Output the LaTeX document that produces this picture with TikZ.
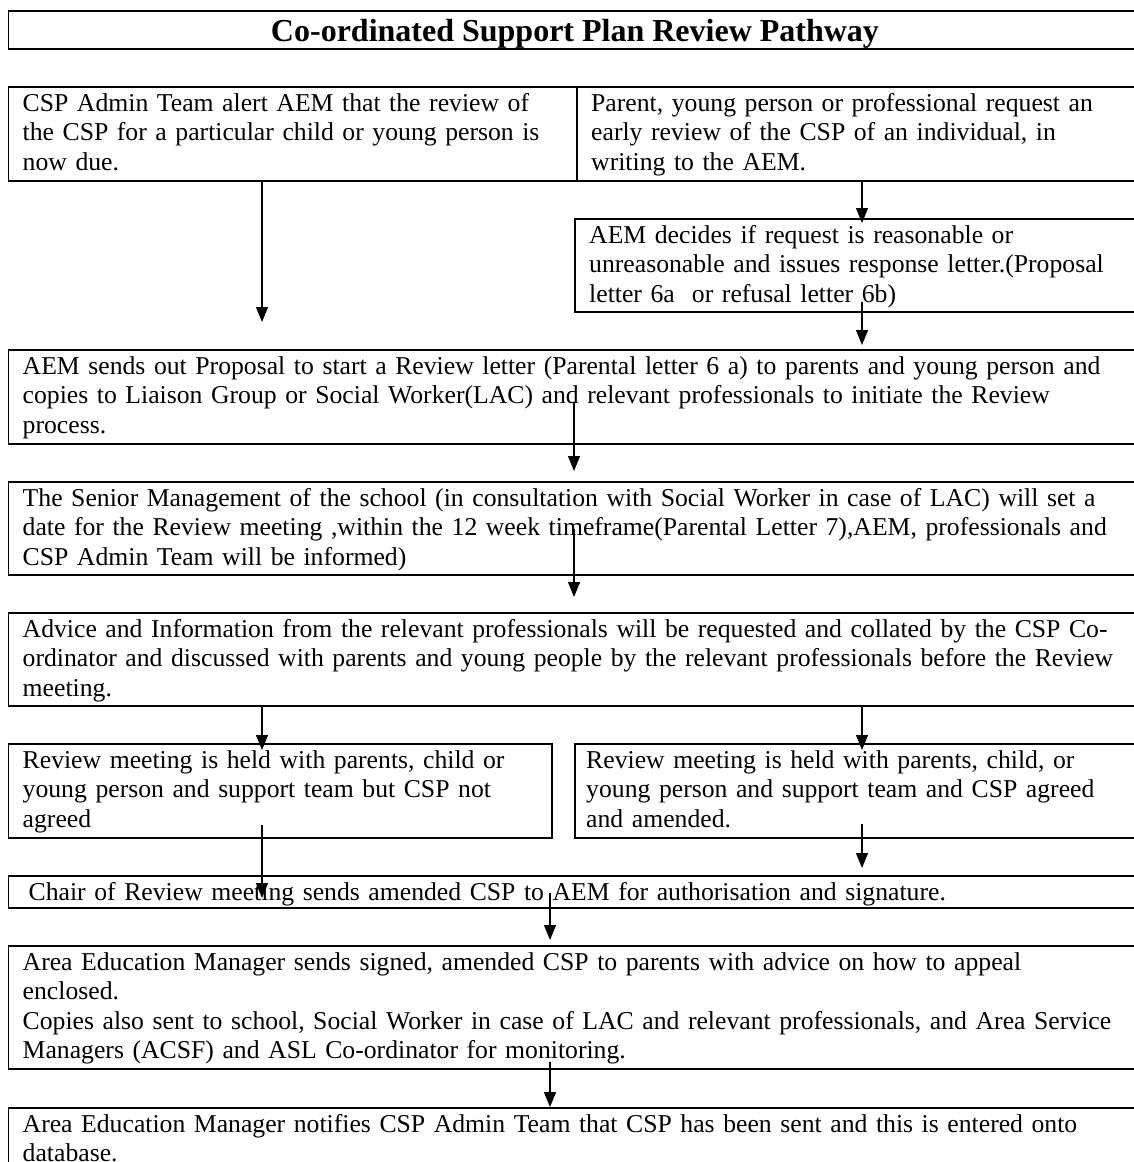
\documentclass[tikz,border=0pt]{standalone}
\usepackage{fontspec}
\setmainfont{Liberation Serif}
\usetikzlibrary{arrows.meta,calc}
\begin{document}
\begin{tikzpicture}[x=1pt,y=-1pt,
  box/.style={draw, line width=1.6pt, inner sep=0pt, anchor=north west, minimum width=1140pt},
  txt/.style={anchor=base west, inner sep=0pt, align=left, text width=1120pt, font=\fontsize{25.7}{29.5}\selectfont},
  arr/.style={line width=1.2pt, -{Triangle[length=15pt,width=12pt]}}]
\clip (0,0) rectangle (1134,1162);
\fill[white] (0,0) rectangle (1134,1162);
% column coordinates
\coordinate (xL) at (262,0);
\coordinate (xM) at (574,0);
\coordinate (xR) at (862,0);
\coordinate (xC) at (550,0);
% boxes
\node[box, minimum height=38pt] (title) at (7.5,10) {};
\node[box, minimum width=568.5pt, minimum height=94pt] (r1l) at (7.5,86) {};
\node[box, minimum width=570pt, minimum height=94pt] (r1r) at (576,86) {};
\node[box, minimum width=570pt, minimum height=93pt] (aem) at (574,218) {};
\node[box, minimum height=94pt] (b3) at (7.5,349) {};
\node[box, minimum height=93pt] (b4) at (7.5,481) {};
\node[box, minimum height=93pt] (b5) at (7.5,612) {};
\node[box, minimum width=543.5pt, minimum height=94pt] (r6l) at (7.5,743) {};
\node[box, minimum width=570pt, minimum height=94pt] (r6r) at (574,743) {};
\node[box, minimum height=32pt] (chair) at (7.5,875) {};
\node[box, minimum height=123pt] (area) at (7.5,945) {};
\node[box, minimum height=100pt] (last) at (7.5,1107) {};
% texts
\node[anchor=base, inner sep=0pt, font=\fontsize{32}{36}\selectfont\bfseries] (ttitle) at (575,41) {Co-ordinated Support Plan Review Pathway};
\node[txt] (tr1l) at ($(r1l.north west)+(15,25)$) {CSP Admin Team alert AEM that the review of\\the CSP for a particular child or young person is\\now due.};
\node[txt] (tr1r) at ($(r1r.north west)+(15,25)$) {Parent, young person or professional request an\\early review of the CSP of an individual, in\\writing to the AEM.};
\node[txt] (taem) at ($(aem.north west)+(15,25)$) {AEM decides if request is reasonable or\\unreasonable and issues response letter.(Proposal\\letter 6a\ \ or refusal letter 6b)};
\node[txt] (tb3) at ($(b3.north west)+(15,25)$) {AEM sends out Proposal to start a Review letter (Parental letter 6 a) to parents and young person and\\copies to Liaison Group or Social Worker(LAC) and relevant professionals to initiate the Review\\process.};
\node[txt] (tb4) at ($(b4.north west)+(15,25)$) {The Senior Management of the school (in consultation with Social Worker in case of LAC) will set a\\date for the Review meeting ,within the 12 week timeframe(Parental Letter 7),AEM, professionals and\\CSP Admin Team will be informed)};
\node[txt] (tb5) at ($(b5.north west)+(15,25)$) {Advice and Information from the relevant professionals will be requested and collated by the CSP Co-\\ordinator and discussed with parents and young people by the relevant professionals before the Review\\meeting.};
\node[txt] (tr6l) at ($(r6l.north west)+(15,25)$) {Review meeting is held with parents, child or\\young person and support team but CSP not\\agreed};
\node[txt] (tr6r) at ($(r6r.north west)+(12,25)$) {Review meeting is held with parents, child, or\\young person and support team and CSP agreed\\and amended.};
\node[txt] (tchair) at ($(chair.north west)+(21,25)$) {Chair of Review meeting sends amended CSP to AEM for authorisation and signature.};
\node[txt] (tarea) at ($(area.north west)+(15,25)$) {Area Education Manager sends signed, amended CSP to parents with advice on how to appeal\\enclosed.\\Copies also sent to school, Social Worker in case of LAC and relevant professionals, and Area Service\\Managers (ACSF) and ASL Co-ordinator for monitoring.};
\node[txt] (tlast) at ($(last.north west)+(15,25)$) {Area Education Manager notifies CSP Admin Team that CSP has been sent and this is entered onto\\database.};
% arrows
\coordinate (e1) at ($(b3.north -| xL)+(0,-27)$);
\draw[arr] (r1l.south -| xL) -- (e1);
\draw[arr] (r1r.south -| xR) -- ($(aem.north -| xR)+(0,5)$);
\draw[arr] ($(aem.south -| xR)+(0,-11)$) -- ($(b3.north -| xR)+(0,-4)$);
\draw[arr] ($(b3.south -| xM)+(0,-43)$) -- ($(b4.north -| xM)+(0,-10)$);
\draw[arr] ($(b4.south -| xM)+(0,-47)$) -- ($(b5.north -| xM)+(0,-15)$);
\draw[arr] (b5.south -| xL) -- ($(r6l.north -| xL)+(0,7)$);
\draw[arr] (b5.south -| xR) -- ($(r6r.north -| xR)+(0,7)$);
\draw[arr] ($(r6l.south -| xL)+(0,-14)$) -- ($(chair.north -| xL)+(0,23)$);
\draw[arr] ($(r6r.south -| xR)+(0,-15)$) -- ($(chair.north -| xR)+(0,-7)$);
\draw[arr] ($(chair.north -| xC)+(0,18)$) -- ($(area.north -| xC)+(0,-5)$);
\draw[arr] ($(area.south -| xC)+(0,-8)$) -- (last.north -| xC);
\end{tikzpicture}
\end{document}
